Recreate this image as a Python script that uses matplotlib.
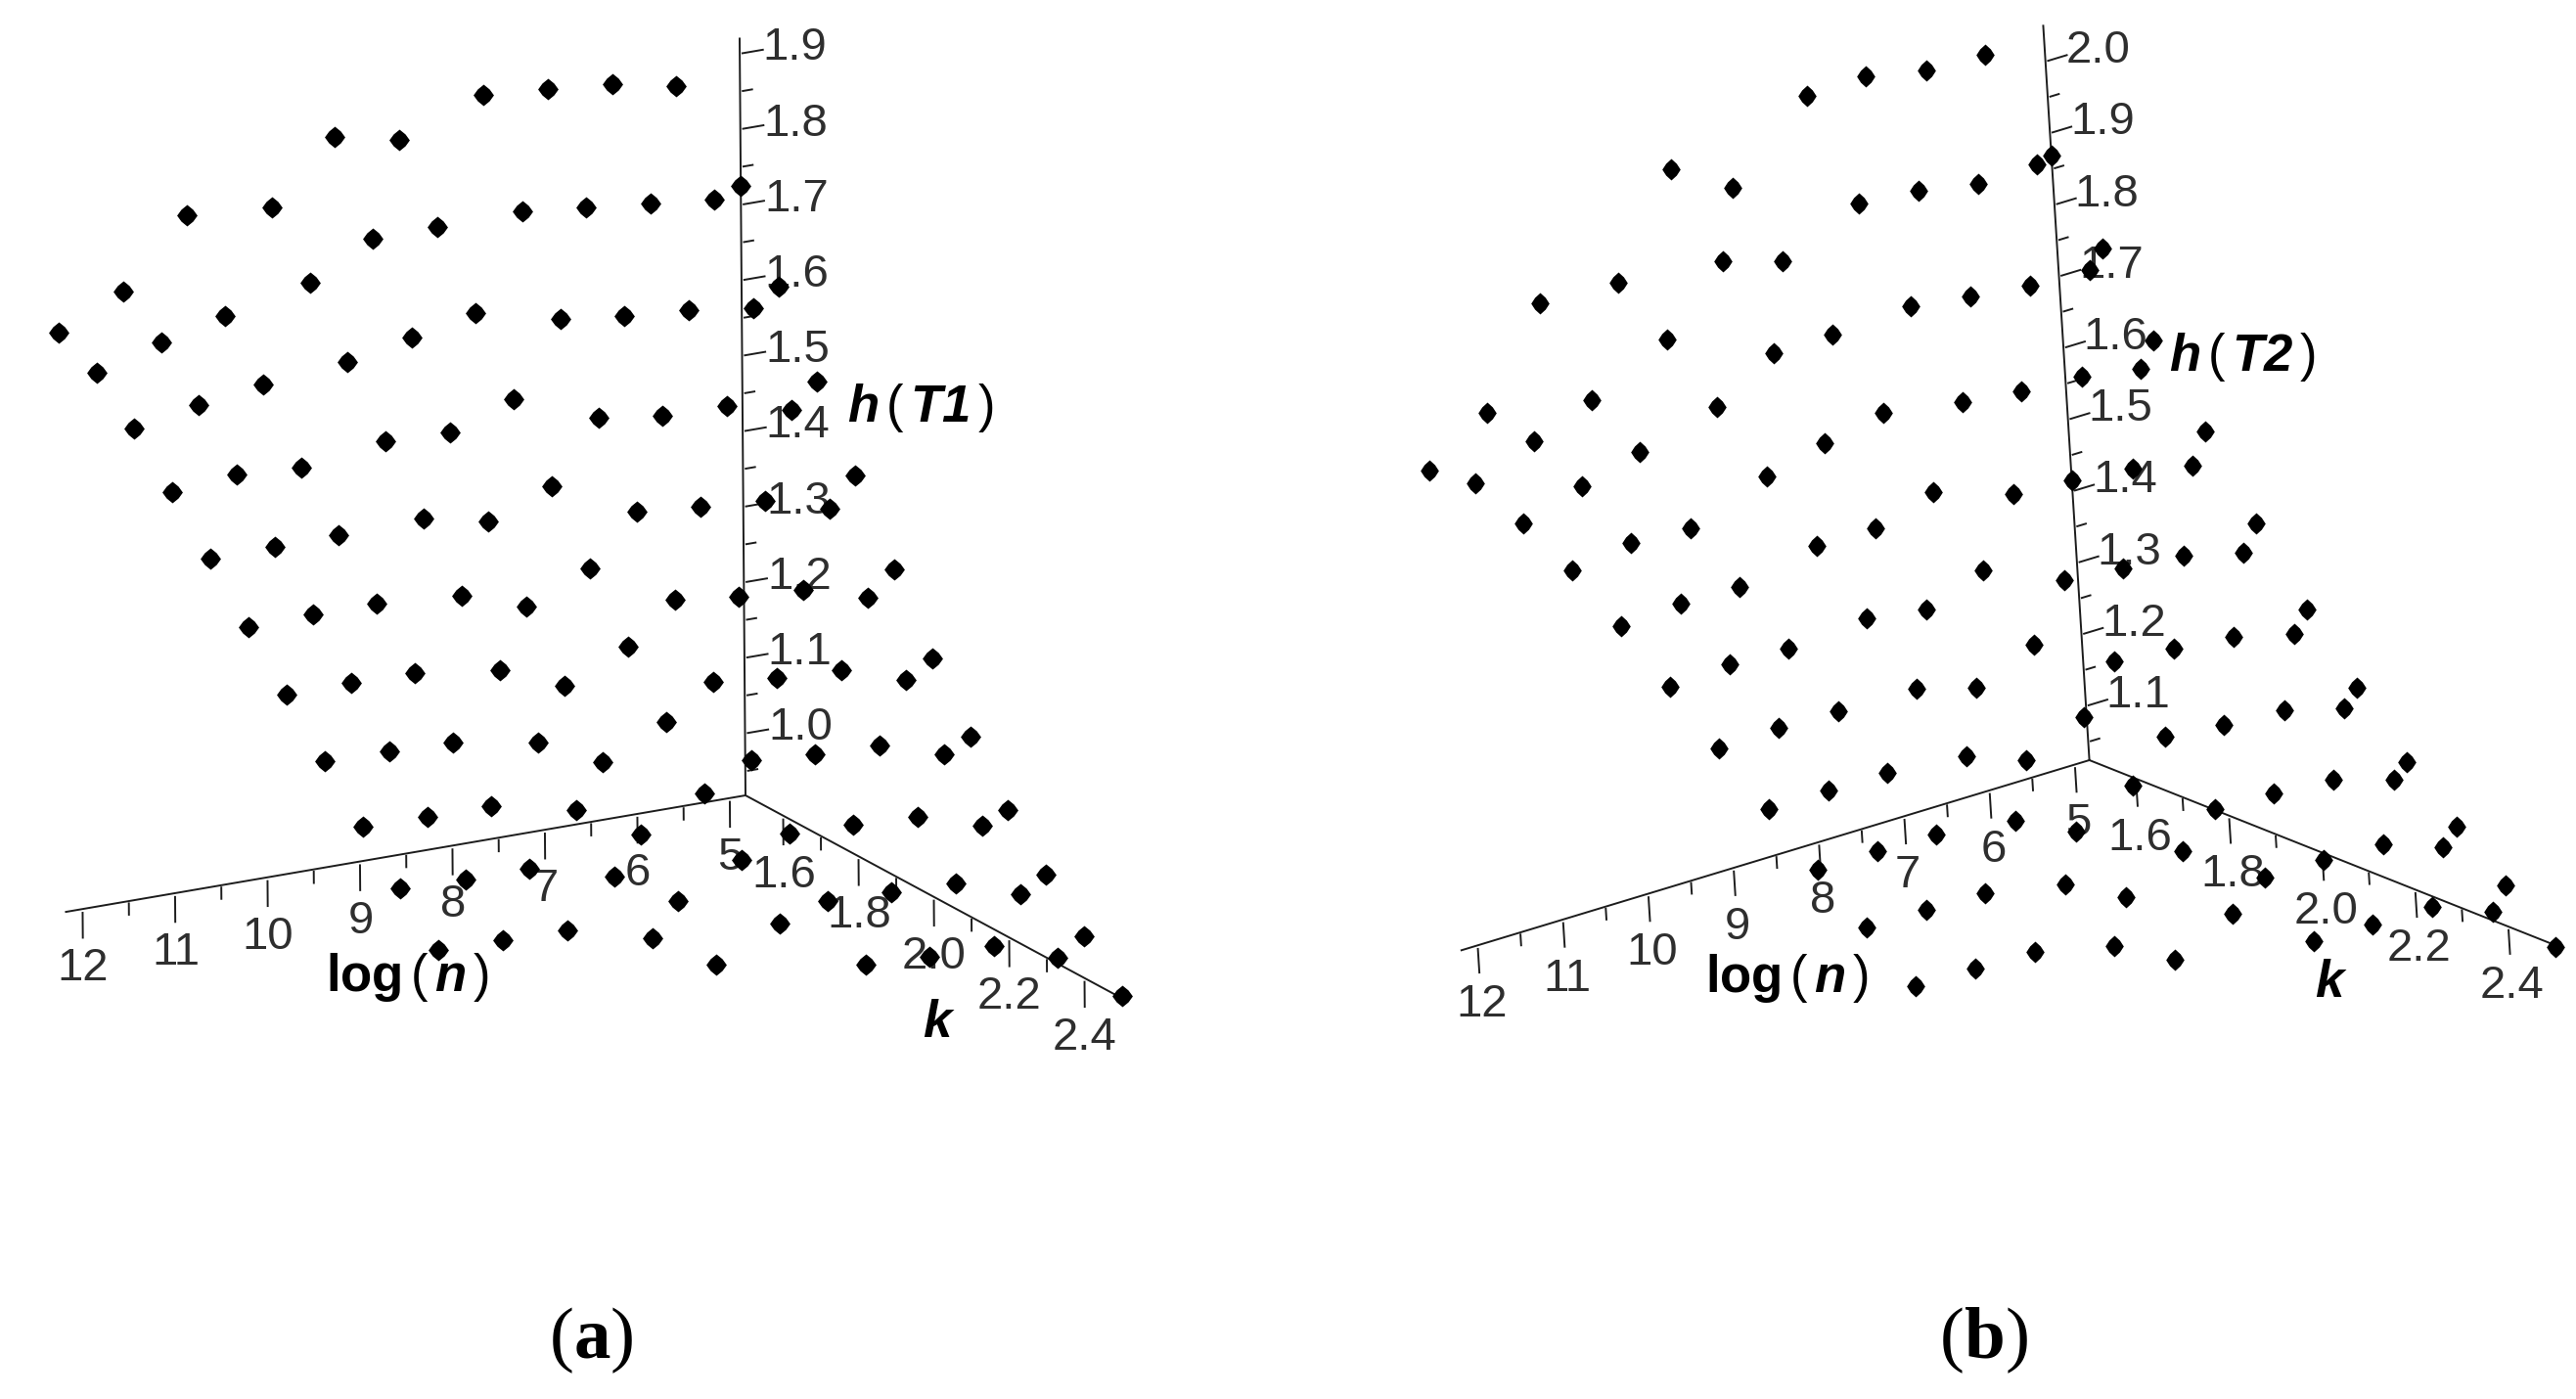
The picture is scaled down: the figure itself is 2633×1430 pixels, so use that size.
import numpy as np
import matplotlib
matplotlib.use('Agg')
import matplotlib.pyplot as plt

W, H = 2633, 1430

log_n = [12.21, 11.51, 10.82, 9.90, 9.21, 8.52, 7.60, 6.91, 6.21, 5.52, 4.83]
k_values = [1.5, 1.6, 1.7, 1.8, 1.9, 2.0, 2.1, 2.2, 2.3, 2.4, 2.5]

# one row per k, one column per log(n)
h_t1 = [
    [1.686, 1.725, 1.812, 1.803, 1.882, 1.863, 1.904, 1.897, 1.889, 1.872, 1.725],
    [1.659, 1.685, 1.705, 1.730, 1.774, 1.775, 1.776, 1.767, 1.758, 1.748, 1.618],
    [1.612, 1.629, 1.641, 1.652, 1.670, 1.688, 1.661, 1.650, 1.643, 1.631, 1.520],
    [1.555, 1.564, 1.558, 1.574, 1.571, 1.601, 1.557, 1.545, 1.543, 1.523, 1.422],
    [1.494, 1.495, 1.496, 1.498, 1.480, 1.512, 1.459, 1.451, 1.444, 1.420, 1.325],
    [1.430, 1.432, 1.432, 1.423, 1.394, 1.430, 1.370, 1.359, 1.353, 1.329, 1.234],
    [1.368, 1.368, 1.367, 1.351, 1.316, 1.354, 1.288, 1.278, 1.274, 1.247, 1.157],
    [1.306, 1.305, 1.302, 1.282, 1.242, 1.281, 1.211, 1.204, 1.201, 1.175, 1.087],
    [1.246, 1.245, 1.244, 1.220, 1.173, 1.213, 1.141, 1.138, 1.133, 1.107, 1.028],
    [1.192, 1.189, 1.188, 1.159, 1.112, 1.152, 1.078, 1.075, 1.072, 1.044, 0.973],
    [1.137, 1.135, 1.134, 1.104, 1.055, 1.095, 1.021, 1.017, 1.016, 0.986, 0.921],
]
h_t2 = [
    [1.695, 1.750, 1.879, 1.874, 2.008, 1.957, 2.052, 2.054, 2.037, 2.034, 1.869],
    [1.703, 1.737, 1.769, 1.821, 1.905, 1.880, 1.928, 1.920, 1.905, 1.907, 1.765],
    [1.673, 1.700, 1.722, 1.752, 1.802, 1.803, 1.810, 1.799, 1.788, 1.785, 1.662],
    [1.633, 1.646, 1.642, 1.681, 1.703, 1.720, 1.702, 1.692, 1.687, 1.673, 1.561],
    [1.581, 1.587, 1.586, 1.610, 1.610, 1.635, 1.599, 1.594, 1.585, 1.564, 1.458],
    [1.522, 1.528, 1.525, 1.535, 1.522, 1.552, 1.505, 1.496, 1.489, 1.468, 1.364],
    [1.462, 1.465, 1.464, 1.462, 1.438, 1.474, 1.417, 1.410, 1.401, 1.381, 1.281],
    [1.403, 1.404, 1.404, 1.394, 1.363, 1.398, 1.338, 1.329, 1.325, 1.303, 1.203],
    [1.344, 1.345, 1.343, 1.329, 1.289, 1.329, 1.263, 1.260, 1.254, 1.229, 1.138],
    [1.289, 1.289, 1.287, 1.266, 1.224, 1.263, 1.193, 1.193, 1.189, 1.160, 1.082],
    [1.233, 1.233, 1.231, 1.206, 1.162, 1.201, 1.130, 1.128, 1.128, 1.096, 1.022],
]

n_ticks = [5, 6, 7, 8, 9, 10, 11, 12]
k_ticks = [1.6, 1.8, 2.0, 2.2, 2.4]
h_ticks_t1 = [1.0, 1.1, 1.2, 1.3, 1.4, 1.5, 1.6, 1.7, 1.8, 1.9]
h_ticks_t2 = [1.1, 1.2, 1.3, 1.4, 1.5, 1.6, 1.7, 1.8, 1.9, 2.0]

plt.rcParams['font.family'] = 'Liberation Sans'
plt.rcParams['mathtext.fontset'] = 'custom'
plt.rcParams['mathtext.rm'] = 'Liberation Sans'
plt.rcParams['mathtext.bf'] = 'Liberation Sans:bold'
plt.rcParams['mathtext.it'] = 'Liberation Sans:italic'
plt.rcParams['mathtext.bfit'] = 'Liberation Sans:italic:bold'

AXIS_COLOR = '#1c1c1c'
TEXT_COLOR = '#2e2e2e'
TICK_SIZE = 34


def px_text(x, y, s, **kw):
    fig.text(x / W, 1 - y / H, s, **kw)


def oblique_proj(ax, origin, ref, d_n, d_k, d_h):
    # fixed oblique view: one unit of each variable is a fixed pixel step
    n0, k0, h0 = ref
    def get_proj():
        s = np.eye(4)
        s[0, :3] = [d_n[0], d_k[0], d_h[0]]
        s[1, :3] = [-d_n[1], -d_k[1], -d_h[1]]
        s[2, :3] = np.cross(s[0, :3], s[1, :3])
        s[0, 3] = origin[0] - s[0, :3] @ [n0, k0, h0]
        s[1, 3] = H - origin[1] - s[1, :3] @ [n0, k0, h0]
        inv = ax.transData.inverted().get_matrix()
        a = np.eye(4)
        a[:2, :2] = inv[:2, :2]
        a[:2, 3] = inv[:2, 2]
        return a @ s
    return get_proj


def draw_panel(left, h_values, h_ticks, origin, ref, d_n, d_k, d_h, n_end, h_top, label_drop, h_shift, h_gap, half_width):
    size = 1300
    ax = fig.add_axes([left / W, (H - size) / H, size / W, size / H], projection='3d', computed_zorder=False)
    ax.set_proj_type('ortho')
    ax.set_axis_off()
    ax.patch.set_alpha(0)
    ax.get_proj = oblique_proj(ax, origin, ref, d_n, d_k, d_h)
    n0, k0, h0 = ref

    def tick_label(n, k, h, s, ha):
        # tick labels sit under the marks, the points overprint them
        x = origin[0] + d_n[0] * (n - n0) + d_k[0] * (k - k0) + d_h[0] * (h - h0)
        y = origin[1] + d_n[1] * (n - n0) + d_k[1] * (k - k0) + d_h[1] * (h - h0)
        px_text(x, y, s, ha=ha, va='center', fontsize=TICK_SIZE, color=TEXT_COLOR, zorder=-1)

    line = dict(color=AXIS_COLOR, lw=1.4, clip_on=False, zorder=1)
    ax.plot([n0, n_end], [k0, k0], [h0, h0], **line)
    ax.plot([n0, n0], [k0, 2.5], [h0, h0], **line)
    ax.plot([n0, n0], [k0, k0], [h0, h_top], **line)

    for v in n_ticks:
        ax.plot([v, v], [k0, k0], [h0 - 0.005, h0 - 0.038], **line)
        tick_label(v, k0, h0 - label_drop, str(v), 'center')
    for v in n_ticks[:-1]:
        ax.plot([v + 0.5, v + 0.5], [k0, k0], [h0 - 0.003, h0 - 0.018], **line)
    for v in k_ticks:
        ax.plot([n0, n0], [v, v], [h0 - 0.005, h0 - 0.038], **line)
        tick_label(n0, v, h0 - label_drop, '%.1f' % v, 'center')
        if v < 2.4:
            ax.plot([n0, n0], [v + 0.1, v + 0.1], [h0 - 0.003, h0 - 0.018], **line)
    for v in h_ticks:
        ax.plot([n0 - 0.03, n0 - 0.25], [k0, k0], [v, v], **line)
        tick_label(n0 - h_gap, k0, v + h_shift, '%.1f' % v, 'left')
    for v in [t - 0.05 for t in h_ticks] + [h_ticks[-1] + 0.05]:
        if v < h_top:
            ax.plot([n0 - 0.03, n0 - 0.13], [k0, k0], [v, v], **line)

    # blunt diamond, the points of the source are slightly rounded
    w = half_width
    blob = [(0, 1), (0.58 * w, 0.55), (w, 0), (0.58 * w, -0.55), (0, -1), (-0.58 * w, -0.55), (-w, 0), (-0.58 * w, 0.55), (0, 1)]
    nn, kk = np.meshgrid(log_n, k_values)
    ax.scatter(nn.ravel(), kk.ravel(), np.array(h_values).ravel(), marker=blob, s=250, c='black',
               depthshade=False, linewidths=0, clip_on=False, zorder=3)


fig = plt.figure(figsize=(W / 100, H / 100), dpi=100, facecolor='white')

draw_panel(0, h_t1, h_ticks_t1, (762, 813), (4.83, 1.5, 0.918), (-94.5, 16.2), (385, 207.5), (-6, -772),
           12.18, 1.92, 0.079, 0.002, 0.25, 0.95)
draw_panel(1333, h_t2, h_ticks_t2, (2135.6, 777), (4.83, 1.5, 1.0245), (-87.2, 26.4), (475.8, 189), (-46, -732),
           12.19, 2.05, 0.083, 0.006, 0.24, 0.85)

axis_label = dict(fontsize=38, color='black', va='center', ha='left')
px_text(866, 417, r'$\mathbfit{h}\,(\,\mathbfit{T1}\,)$', **axis_label)
px_text(2217, 365, r'$\mathbfit{h}\,(\,\mathbfit{T2}\,)$', **axis_label)
px_text(333, 999, r'$\mathbf{log}\,(\,\mathbfit{n}\,)$', **axis_label)
px_text(1743, 1000, r'$\mathbf{log}\,(\,\mathbfit{n}\,)$', **axis_label)
px_text(943, 1046, r'$\mathbfit{k}$', **axis_label)
px_text(2366, 1005, r'$\mathbfit{k}$', **axis_label)

# panel captions, regular brackets with a bold letter
for x, letter in [(562, 'a'), (1983, 'b')]:
    caption = dict(family='Liberation Serif', fontsize=54, color='black', va='baseline', ha='left')
    px_text(x, 1388, '(', **caption)
    px_text(x + 25, 1388, letter, fontweight='bold', **caption)
    px_text(x + 25 + (37 if letter == 'a' else 42), 1388, ')', **caption)

fig.savefig('out.png', dpi=100, facecolor='white')
